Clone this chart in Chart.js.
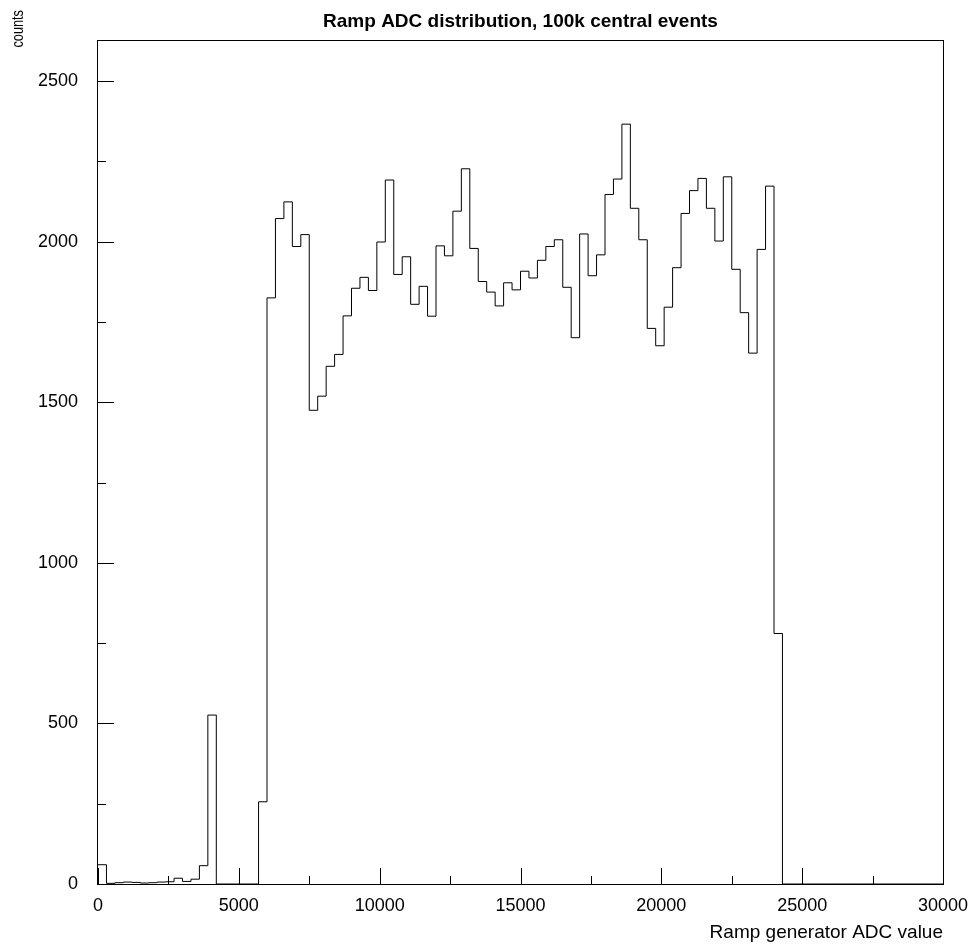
<!DOCTYPE html>
<html>
<head>
<meta charset="utf-8">
<script src="https://cdn.jsdelivr.net/npm/chart.js@4.4.1/dist/chart.umd.min.js"></script>
<style>
  html, body { margin: 0; padding: 0; background: #fff; }
  #wrap { width: 976px; height: 949px; }
</style>
</head>
<body>
<div id="wrap"><canvas id="hist" width="976" height="949"></canvas></div>
<script>
// histogram: 100 bins of 300 ADC counts starting at 0
const binWidth = 300;
const counts = [
  60, 2, 4, 6, 5, 3, 4, 6, 7, 18,
  8, 15, 57, 526, 0, 0, 0, 0, 0, 256,
  1825, 2072, 2124, 1985, 2022, 1475, 1519, 1612, 1649, 1769,
  1855, 1889, 1848, 1999, 2192, 1898, 1953, 1805, 1861, 1768,
  1987, 1956, 2095, 2227, 1979, 1876, 1843, 1800, 1872, 1850,
  1908, 1887, 1942, 1985, 2006, 1858, 1701, 2024, 1894, 1959,
  2147, 2195, 2366, 2104, 2006, 1730, 1676, 1796, 1919, 2088,
  2159, 2197, 2104, 2002, 2202, 1914, 1779, 1653, 1976, 2173,
  780, 0, 0, 0, 0, 0, 0, 0, 0, 0,
  0, 0, 0, 0, 0, 0, 0, 0, 0, 0
];
const xTicks = [0, 5000, 10000, 15000, 20000, 25000, 30000];
const yTicks = [0, 500, 1000, 1500, 2000, 2500];
const xMinorStep = 2500;
const yMinorStep = 250;
const xMax = 30000;
const yMax = 2628;

const titleText = 'Ramp ADC distribution, 100k central events';
const xTitle = 'Ramp generator ADC value';
const yTitle = 'counts';

// left edge of every bin, plus the closing right edge of the last one
const points = counts.map((c, i) => ({ x: i * binWidth, y: c }));
points.push({ x: counts.length * binWidth, y: counts[counts.length - 1] });

const FONT = '"Liberation Sans", Arial, Helvetica, sans-serif';

// frame, inward tick marks and the text around the pad
const framePlugin = {
  id: 'frame',
  afterDraw(chart) {
    const { ctx, chartArea: a, scales } = chart;
    const xs = scales.x, ys = scales.y;
    ctx.save();
    ctx.strokeStyle = '#000';
    ctx.lineWidth = 1;
    ctx.strokeRect(Math.round(a.left) - 0.5, Math.round(a.top) + 0.5,
                   Math.round(a.right - a.left) + 1, Math.round(a.bottom - a.top));

    ctx.beginPath();
    for (let v = 0; v <= xMax; v += xMinorStep) {
      const px = Math.round(xs.getPixelForValue(v)) + 0.5;
      const len = v % 5000 === 0 ? 16 : 8;
      ctx.moveTo(px, a.bottom);
      ctx.lineTo(px, a.bottom - len);
    }
    for (let v = 0; v <= yMax; v += yMinorStep) {
      const py = Math.round(ys.getPixelForValue(v)) + 0.5;
      const len = v % 500 === 0 ? 16 : 8;
      ctx.moveTo(a.left, py);
      ctx.lineTo(a.left + len, py);
    }
    ctx.stroke();

    ctx.fillStyle = '#000';
    ctx.font = 'bold 19px ' + FONT;
    ctx.textAlign = 'center';
    ctx.textBaseline = 'middle';
    ctx.fillText(titleText, (a.left + a.right) / 2, 22);

    ctx.font = '19px ' + FONT;
    ctx.textAlign = 'right';
    ctx.fillText(xTitle, a.right, 933);

    // vertical axis title, a little narrower than the plain font
    ctx.font = '17px ' + FONT;
    ctx.translate(18, 10);
    ctx.rotate(-Math.PI / 2);
    ctx.scale(0.75, 1);
    ctx.textAlign = 'right';
    ctx.fillText(yTitle, 0, 0);
    ctx.restore();
  }
};

const chart = new Chart(document.getElementById('hist'), {
  type: 'line',
  data: {
    datasets: [{
      data: points,
      stepped: 'before',
      borderColor: '#000',
      borderWidth: 1,
      pointRadius: 0,
      fill: false,
      tension: 0
    }]
  },
  options: {
    responsive: false,
    animation: false,
    layout: { padding: { top: 40, right: 33, left: 0, bottom: 0 } },
    plugins: {
      legend: { display: false },
      tooltip: { enabled: false },
      title: { display: false }
    },
    scales: {
      x: {
        type: 'linear',
        min: 0,
        max: xMax,
        afterBuildTicks: s => { s.ticks = xTicks.map(v => ({ value: v })); },
        afterFit: s => { s.height = 65; s.paddingLeft = 0; s.paddingRight = 0; },
        grid: { display: false, drawTicks: false },
        border: { display: false },
        ticks: {
          padding: 11,
          maxRotation: 0,
          autoSkip: false,
          color: '#000',
          font: { family: FONT, size: 18 },
          callback: v => String(v)
        }
      },
      y: {
        type: 'linear',
        min: 0,
        max: yMax,
        afterBuildTicks: s => { s.ticks = yTicks.map(v => ({ value: v })); },
        afterFit: s => { s.width = 98; s.paddingTop = 0; s.paddingBottom = 0; },
        grid: { display: false, drawTicks: false },
        border: { display: false },
        ticks: {
          padding: 20,
          color: '#000',
          font: { family: FONT, size: 18 },
          callback: v => String(v)
        }
      }
    }
  },
  plugins: [framePlugin]
});
</script>
</body>
</html>
